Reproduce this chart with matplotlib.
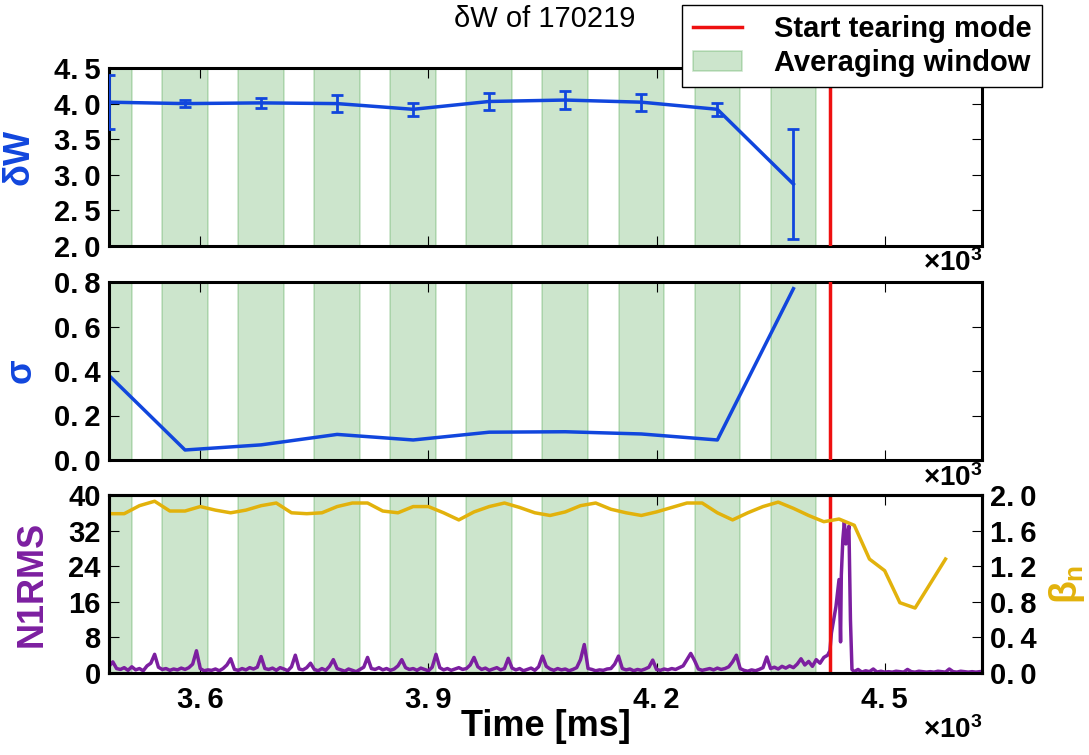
import numpy as np
import matplotlib
matplotlib.use('Agg')
import matplotlib.pyplot as plt
from matplotlib.ticker import FuncFormatter

plt.rcParams['font.family'] = ['Liberation Sans', 'DejaVu Sans']
plt.rcParams['font.weight'] = 'bold'
plt.rcParams['axes.labelweight'] = 'bold'
plt.rcParams['mathtext.fontset'] = 'custom'
plt.rcParams['mathtext.rm'] = 'Liberation Sans:bold'
plt.rcParams['mathtext.it'] = 'Liberation Sans:bold'
plt.rcParams['mathtext.bf'] = 'Liberation Sans:bold'
plt.rcParams['axes.linewidth'] = 2.2
plt.rcParams['xtick.direction'] = 'in'
plt.rcParams['ytick.direction'] = 'in'
plt.rcParams['xtick.top'] = True
plt.rcParams['ytick.right'] = True
plt.rcParams['xtick.major.size'] = 7
plt.rcParams['ytick.major.size'] = 7
plt.rcParams['xtick.major.pad'] = 9
plt.rcParams['ytick.major.pad'] = 6
plt.rcParams['xtick.labelsize'] = 21
plt.rcParams['ytick.labelsize'] = 21

# --- data (time in ms) ---
shot = 170219
t_tearing = 4428
win_start = [3450, 3550, 3650, 3750, 3850, 3950, 4050, 4150, 4250, 4350]
win_width = 60

dw_t = [3480, 3580, 3680, 3780, 3880, 3980, 4080, 4180, 4280, 4380]
dw = [4.02, 4.00, 4.01, 4.00, 3.92, 4.03, 4.05, 4.02, 3.92, 2.87]
sigma = [0.38, 0.045, 0.068, 0.115, 0.09, 0.125, 0.127, 0.117, 0.09, 0.77]

beta_t = [3480, 3500, 3520, 3540, 3560, 3580, 3600, 3620, 3640, 3660,
          3680, 3700, 3720, 3740, 3760, 3780, 3800, 3820, 3840, 3860,
          3880, 3900, 3920, 3940, 3960, 3980, 4000, 4020, 4040, 4060,
          4080, 4100, 4120, 4140, 4160, 4180, 4200, 4220, 4240, 4260,
          4280, 4300, 4320, 4340, 4360, 4380, 4400, 4420, 4440, 4460,
          4480, 4500, 4520, 4540, 4580]
beta_n = [1.79, 1.79, 1.88, 1.93, 1.82, 1.82, 1.87, 1.83, 1.80, 1.83,
          1.88, 1.91, 1.80, 1.79, 1.80, 1.87, 1.91, 1.91, 1.82, 1.80,
          1.87, 1.87, 1.80, 1.72, 1.81, 1.87, 1.91, 1.86, 1.80, 1.77,
          1.81, 1.88, 1.91, 1.84, 1.80, 1.77, 1.81, 1.86, 1.91, 1.91,
          1.80, 1.72, 1.80, 1.87, 1.92, 1.85, 1.77, 1.70, 1.73, 1.66,
          1.28, 1.15, 0.79, 0.73, 1.28]

# n1 rms, 5 ms samples before the mode, finer through the burst, 5 ms after
n1_pre = [1.5, 2.5, 1.0, 0.8, 1.2, 0.6, 1.4, 0.7, 1.0, 0.5, 1.6, 2.2, 4.2, 1.3, 0.8, 1.0, 0.6, 0.9, 0.7, 1.1,
          0.8, 1.2, 2.0, 5.0, 1.0, 0.5, 0.7, 0.6, 0.9, 0.5, 1.0, 1.8, 3.2, 0.8, 0.6, 1.0, 0.7, 1.2, 0.9, 1.3,
          3.7, 1.0, 0.8, 1.1, 0.6, 1.2, 0.9, 0.5, 1.4, 4.0, 0.9, 0.7, 1.2, 2.2, 0.8, 0.5, 1.0, 0.6, 1.5, 3.0,
          1.0, 0.7, 0.4, 0.9, 0.6, 0.3, 0.8, 1.3, 3.5, 1.0, 0.8, 1.2, 0.7, 1.0, 0.6, 0.9, 1.6, 3.0, 1.2, 0.8,
          1.0, 0.6, 1.1, 0.8, 0.5, 1.3, 4.2, 1.2, 0.7, 1.0, 0.6, 0.9, 1.2, 0.8, 1.0, 1.8, 3.5, 1.4, 0.8, 1.1,
          0.6, 0.9, 1.2, 0.7, 1.0, 3.3, 1.1, 0.7, 1.0, 0.5, 0.8, 1.1, 0.6, 1.4, 3.8, 1.5, 0.9, 0.6, 1.0, 0.7,
          0.9, 0.5, 0.8, 1.2, 3.0, 6.4, 1.0, 0.8, 0.5, 0.7, 0.6, 0.9, 1.0, 2.0, 3.8, 1.0, 0.7, 0.9, 0.5, 0.8,
          0.6, 0.9, 1.3, 2.9, 0.8, 0.6, 0.9, 0.7, 1.0, 0.8, 1.2, 1.6, 3.0, 4.4, 2.8, 0.9, 0.6, 0.8, 1.0, 0.7,
          1.1, 0.8, 1.0, 1.4, 2.5, 4.0, 1.0, 0.6, 0.4, 0.7, 0.5, 0.8, 1.2, 3.6, 1.0, 1.3, 0.9, 1.5, 1.1, 1.6,
          1.2, 2.0, 3.2, 1.8, 2.6, 1.5, 3.0, 2.2, 3.5, 4.0]
burst_t = [4428, 4430, 4433, 4436, 4438, 4440, 4441, 4442, 4443, 4445, 4447, 4449, 4451, 4453, 4455, 4457]
burst = [5.0, 9.0, 12.0, 15.0, 18.0, 21.0, 15.0, 7.0, 22.0, 30.0, 34.0, 29.0, 31.0, 33.0, 12.0, 0.8]
n1_post = [0.3, 0.8, 0.2, 0.5, 0.3, 0.9, 0.2, 0.4, 0.2, 0.3, 0.2, 0.4, 0.3, 0.2, 0.8, 0.3, 0.2,
           0.4, 0.3, 0.2, 0.3, 0.2, 0.4, 0.3, 0.2, 0.9, 0.3, 0.2, 0.4, 0.3, 0.2, 0.3, 0.2, 0.3]

n1_t = np.concatenate([np.arange(3480, 4430, 5), burst_t, np.arange(4460, 4630, 5)])
n1 = np.concatenate([n1_pre, burst, n1_post])

blue = '#1146dd'
purple = '#7c1fa0'
gold = '#e2b20c'
red = '#ee1010'


def spaced(fmt):
    # old-style wide spacing after the decimal point
    return FuncFormatter(lambda v, p: (fmt % v).replace('.', '.\u2009'))


fig = plt.figure(figsize=(10.89, 7.55), dpi=100)
L, W, H = 109 / 1089, 873 / 1089, 178 / 755
ax1 = fig.add_axes([L, 1 - 246 / 755, W, H])
ax2 = fig.add_axes([L, 1 - 460 / 755, W, H], sharex=ax1)
ax3 = fig.add_axes([L, 1 - 673 / 755, W, H], sharex=ax1)

for ax in (ax1, ax2, ax3):
    for s in win_start:
        span = ax.axvspan(s, s + win_width, color='green', alpha=0.2, lw=1.2)
    tear = ax.axvline(t_tearing, color=red, lw=2.5, zorder=4)

ax1.errorbar(dw_t, dw, yerr=sigma, color=blue, lw=2.5, elinewidth=2, capsize=4, capthick=2, zorder=3)
ax1.set_ylim(2.0, 4.5)
ax1.set_yticks(np.arange(2.0, 4.51, 0.5))
ax1.yaxis.set_major_formatter(spaced('%.1f'))
ax1.set_ylabel('δW', color=blue, fontsize=26)
ax1.yaxis.set_label_coords(-0.083, 0.5)

ax2.plot(dw_t, sigma, color=blue, lw=2.5)
ax2.set_ylim(0, 0.8)
ax2.set_yticks(np.arange(0, 0.81, 0.2))
ax2.yaxis.set_major_formatter(spaced('%.1f'))
ax2.set_ylabel('σ', color=blue, fontsize=26)
ax2.yaxis.set_label_coords(-0.081, 0.5)

ax3.plot(n1_t, n1, color=purple, lw=2.5, zorder=3)
ax3.set_ylim(0, 40)
ax3.set_yticks(range(0, 41, 8))
ax3.set_ylabel('N1RMS', color=purple, fontsize=26)
ax3.yaxis.set_label_coords(-0.068, 0.5)
ax3.tick_params(axis='y', right=False)
ax3.set_xlabel('Time [ms]', fontsize=26, labelpad=-3)

ax3b = ax3.twinx()
ax3b.plot(beta_t, beta_n, color=gold, lw=2.5)
ax3b.set_ylim(0, 2.0)
ax3b.set_yticks(np.arange(0, 2.01, 0.4))
ax3b.yaxis.set_major_formatter(spaced('%.1f'))
ax3b.set_ylabel(r'$\beta_n$', color=gold, fontsize=27)
ax3b.yaxis.set_label_coords(1.075, 0.5)

ax1.set_xlim(3480, 4628)
ax1.set_xticks([3600, 3900, 4200, 4500])
for ax in (ax1, ax2):
    plt.setp(ax.get_xticklabels(), visible=False)

# x tick labels in units of 10^3 ms, multiplier written under each panel
ax3.xaxis.set_major_formatter(FuncFormatter(lambda v, p: ('%.1f' % (v / 1000)).replace('.', '.\u2009')))
for ax, yoff in ((ax1, -0.095), (ax2, -0.1), (ax3, -0.32)):
    ax.text(1.0, yoff, r'$\times\mathdefault{10^{3}}$', transform=ax.transAxes, ha='right', va='center',
            fontsize=20)

fig.text(0.5, 1 - 19 / 755, 'δW of %d' % shot, ha='center', va='center', fontsize=21, fontweight='normal')
fig.legend([tear, span], ['Start tearing mode', 'Averaging window'], loc='upper right',
           bbox_to_anchor=(1042 / 1089, 1 - 5 / 755), fancybox=False, edgecolor='black',
           framealpha=1, fontsize=21, borderaxespad=0, handlelength=1.7, handletextpad=1.1,
           labelspacing=0.2, borderpad=0.35)

fig.savefig('out.png', dpi=100)
